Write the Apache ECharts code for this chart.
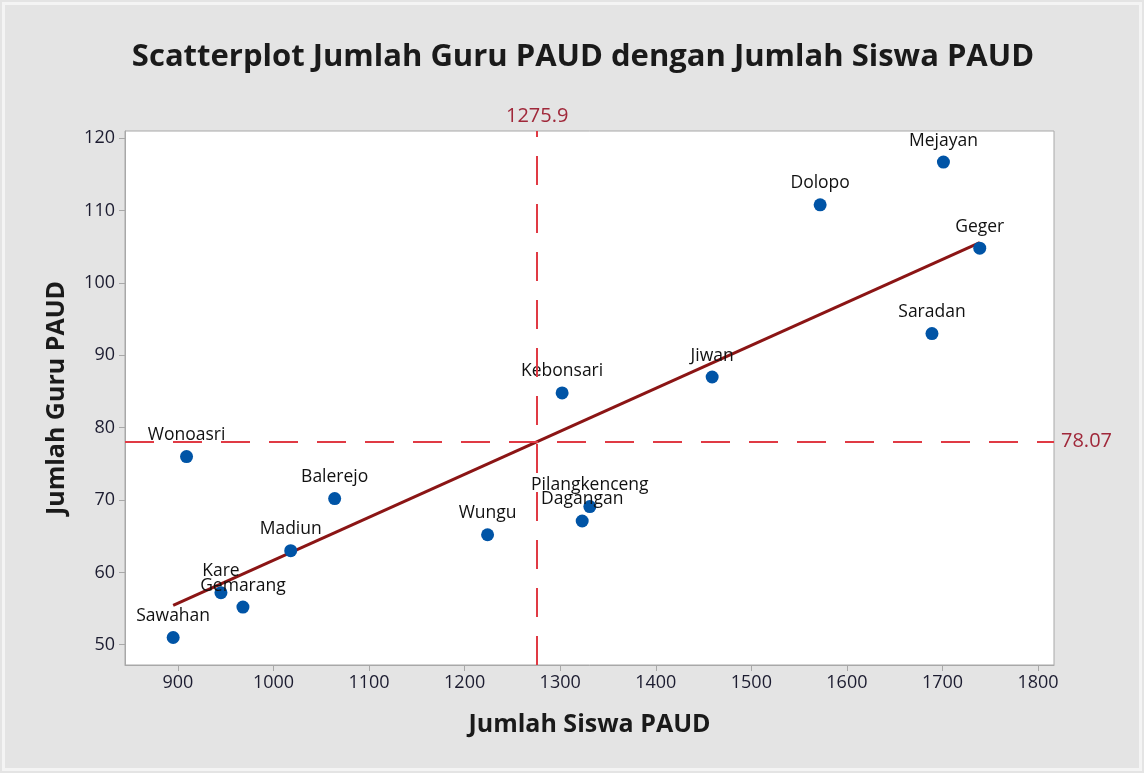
<!DOCTYPE html>
<html lang="id">
<head>
    <meta charset="UTF-8">
    <script src="https://cdn.jsdelivr.net/npm/echarts@6/dist/echarts.min.js"></script>
    <title>Scatterplot Jumlah Guru PAUD</title>
    <style>
        html, body {
            margin: 0;
            padding: 0;
            width: 100%;
            height: 100%;
            overflow: hidden;
            background: #e4e4e4;
        }
        #chart {
            width: 1144px;
            height: 773px;
        }
    </style>
</head>
<body>
<div id="chart"></div>
<script>
    // data
    var kecamatan = ['Sawahan', 'Kare', 'Gemarang', 'Madiun', 'Balerejo', 'Wonoasri', 'Wungu', 'Kebonsari',
        'Dagangan', 'Pilangkenceng', 'Jiwan', 'Dolopo', 'Saradan', 'Mejayan', 'Geger'];
    var jumlahSiswa = [895, 945, 968, 1018, 1064, 909, 1224, 1302, 1323, 1331, 1459, 1572, 1689, 1701, 1739];
    var jumlahGuru = [51.0, 57.2, 55.2, 63.0, 70.2, 76.0, 65.2, 84.8, 67.1, 69.1, 87.0, 110.8, 93.0, 116.7, 104.8];
    var xTicks = [900, 1000, 1100, 1200, 1300, 1400, 1500, 1600, 1700, 1800];
    var yTicks = [50, 60, 70, 80, 90, 100, 110, 120];

    var points = kecamatan.map(function (n, i) {
        return {name: n, value: [jumlahSiswa[i], jumlahGuru[i]]};
    });

    // means + least squares fit
    var n = jumlahSiswa.length;
    var mx = 0, my = 0;
    for (var i = 0; i < n; i++) { mx += jumlahSiswa[i]; my += jumlahGuru[i]; }
    mx /= n; my /= n;
    var sxy = 0, sxx = 0;
    for (var i = 0; i < n; i++) {
        sxy += (jumlahSiswa[i] - mx) * (jumlahGuru[i] - my);
        sxx += (jumlahSiswa[i] - mx) * (jumlahSiswa[i] - mx);
    }
    var b = sxy / sxx, a = my - b * mx;
    var xlo = Math.min.apply(null, jumlahSiswa), xhi = Math.max.apply(null, jumlahSiswa);
    var fitLine = [[xlo, a + b * xlo], [xhi, a + b * xhi]];

    var font = '"Open Sans", "Noto Sans", sans-serif';
    var refRed = '#e03a44';

    var myChart = echarts.init(document.getElementById('chart'));
    var option = {
        backgroundColor: '#e4e4e4',
        animation: false,
        title: {
            text: 'Scatterplot Jumlah Guru PAUD dengan Jumlah Siswa PAUD',
            left: 578,
            textAlign: 'center',
            top: 37,
            textStyle: {fontFamily: font, fontSize: 31, fontWeight: 'bold', color: '#1a1a1a'}
        },
        graphic: [{
            type: 'rect',
            shape: {x: 3.5, y: 3.5, width: 1137, height: 766},
            style: {fill: 'none', stroke: '#f4f4f4', lineWidth: 3},
            silent: true
        }],
        grid: {
            left: 125, right: 90, top: 131, bottom: 108,
            show: true, backgroundColor: '#fff', borderColor: '#a8a8a8', borderWidth: 1
        },
        xAxis: {
            type: 'value',
            min: 844.6, max: 1816.7,
            name: 'Jumlah Siswa PAUD',
            nameLocation: 'middle',
            nameGap: 47,
            nameTextStyle: {fontFamily: font, fontSize: 25, fontWeight: 'bold', color: '#1a1a1a'},
            splitLine: {show: false},
            axisLine: {show: true, lineStyle: {color: '#a8a8a8'}},
            axisTick: {show: true, length: 6, lineStyle: {color: '#a8a8a8'}, customValues: xTicks},
            axisLabel: {
                fontFamily: font, fontSize: 18, color: '#1c1c30', margin: 9, customValues: xTicks,
                formatter: function (v) { return String(v); }
            }
        },
        yAxis: {
            type: 'value',
            min: 47.2, max: 121.0,
            name: 'Jumlah Guru PAUD',
            nameLocation: 'middle',
            nameGap: 56,
            nameTextStyle: {fontFamily: font, fontSize: 25, fontWeight: 'bold', color: '#1a1a1a'},
            splitLine: {show: false},
            axisLine: {show: true, lineStyle: {color: '#a8a8a8'}},
            axisTick: {show: true, length: 6, lineStyle: {color: '#a8a8a8'}, customValues: yTicks},
            axisLabel: {fontFamily: font, fontSize: 18, color: '#1c1c30', margin: 10, customValues: yTicks}
        },
        series: [
            {
                type: 'line',
                data: fitLine,
                symbol: 'none',
                silent: true,
                lineStyle: {color: '#8b1515', width: 3},
                z: 2
            },
            {
                type: 'scatter',
                data: points,
                symbolSize: 13,
                itemStyle: {color: '#0054a6', opacity: 1},
                label: {
                    show: true,
                    position: 'top',
                    distance: 6,
                    formatter: '{b}',
                    fontFamily: font,
                    fontSize: 17.5,
                    color: '#111'
                },
                z: 3,
                markLine: {
                    silent: true,
                    symbol: 'none',
                    lineStyle: {color: refRed, type: [29, 19], width: 2},
                    label: {fontFamily: font, fontSize: 20, color: '#a0283a'},
                    data: [
                        {xAxis: mx, label: {formatter: mx.toFixed(1), position: 'end', distance: 5}},
                        {yAxis: my, label: {formatter: my.toFixed(2), position: 'end', distance: 7}}
                    ]
                }
            }
        ]
    };
    myChart.setOption(option);
</script>
</body>
</html>
